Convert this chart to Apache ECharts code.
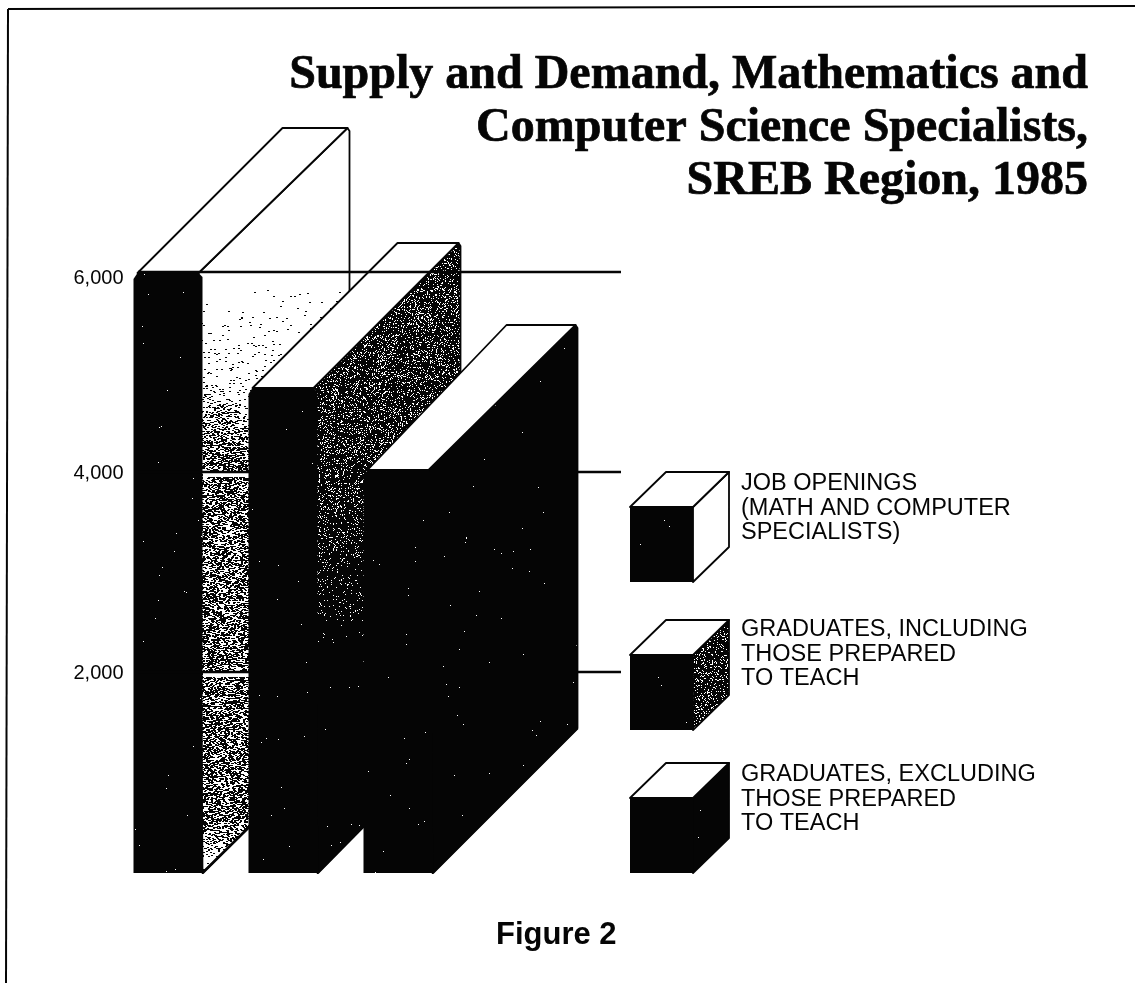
<!DOCTYPE html>
<html>
<head>
<meta charset="utf-8">
<title>Supply and Demand</title>
<script src="https://cdn.jsdelivr.net/npm/echarts@6/dist/echarts.min.js"></script>
<style>
    html, body { margin: 0; padding: 0; background: #fff; }
    #chart { width: 1135px; height: 983px; }
</style>
</head>
<body>
<div id="chart"></div>
<script>
// values
const categories = ['Job openings', 'Graduates, including', 'Graduates, excluding'];
const jobOpenings = [6000];
const gradsIncluding = [4850];
const gradsExcluding = [4030];
const tickValues = [0, 2000, 4000, 6000];
const tickLabels = ['', '2,000', '4,000', '{low|6,000}'];
const backLines = [2000, 4000];
const frontLines = [6000];
const titleText = 'Supply and Demand, Mathematics and\nComputer Science Specialists,\nSREB Region, 1985';
const legendLabels = [
    ['JOB OPENINGS', '(MATH AND COMPUTER', 'SPECIALISTS)'],
    ['GRADUATES, INCLUDING', 'THOSE PREPARED', 'TO TEACH'],
    ['GRADUATES, EXCLUDING', 'THOSE PREPARED', 'TO TEACH']
];

const DEPTH_Y = 145;
const LINE_END = 621;
const INSET = 4;
const INK = '#050505';

// plain little generator so the printed grain stays the same on every load
let seed = 20240;
function grain() {
    seed = (seed * 1664525 + 1013904223) % 4294967296;
    return seed / 4294967296;
}

function speckle(paper, ink, density, dotW, dotH) {
    const c = document.createElement('canvas');
    c.width = 1135;
    c.height = 983;
    const ctx = c.getContext('2d');
    ctx.fillStyle = paper;
    ctx.fillRect(0, 0, c.width, c.height);
    ctx.fillStyle = ink;
    for (let y = 0; y < c.height; y++) {
        const d = density(y);
        for (let x = 0; x < c.width; x++) {
            if (grain() < d) ctx.fillRect(x, y, dotW, dotH);
        }
    }
    return { image: c, repeat: 'repeat' };
}

// bar 1 side: nearly clean at the top, heavy from about 4,400 down
const sideLight = speckle('#fff', INK, function (y) {
    if (y < 290) return 0;
    if (y < 390) return 0.004 + (y - 290) * 0.0003;
    if (y < 450) return 0.035 + (y - 390) * 0.005;
    if (y < 820) return 0.36;
    return Math.max(0.03, 0.36 - (y - 820) * 0.008);
}, 2, 1);

// bar 2 side: dark, white grain dying out towards the bottom
const sideDark = speckle(INK, '#fff', function (y) {
    if (y < 470) return 0.17;
    if (y < 650) return 0.17 - (y - 470) * 0.00092;
    return 0.001;
}, 1, 1);

const blackFace = speckle(INK, '#fff', function () { return 0.0008; }, 1, 1);
const cubeDark = speckle(INK, '#fff', function () { return 0.16; }, 1, 1);

function barItem(sideFill, depthX, backLeftX) {
    return function (params, api) {
        const top = api.coord([api.value(0), api.value(1)]);
        const base = api.coord([api.value(0), 0]);
        const w = api.size([1, 0])[0] * 0.6;
        const l = top[0] - w / 2;
        const r = top[0] + w / 2;
        const back = top[1] - DEPTH_Y;
        const edge = { stroke: INK, lineWidth: 1.8, lineJoin: 'round' };
        return {
            type: 'group',
            children: [
                {
                    type: 'polygon',
                    shape: { points: [[r - INSET, top[1]], [r + depthX - 2, back], [r + depthX, back + 3], [r + depthX, base[1] - DEPTH_Y], [r, base[1]]] },
                    style: Object.assign({ fill: sideFill }, edge)
                },
                {
                    type: 'polygon',
                    shape: { points: [[l + INSET, top[1]], [l + INSET + backLeftX, back], [r + depthX - 2, back], [r - INSET, top[1]]] },
                    style: Object.assign({ fill: '#fff' }, edge)
                },
                {
                    type: 'polygon',
                    shape: { points: [[l, top[1] + INSET + 2], [l + INSET, top[1]], [r - INSET, top[1]], [r, top[1] + INSET], [r, base[1]], [l, base[1]]] },
                    style: { fill: blackFace }
                },
                {
                    type: 'line',
                    shape: { x1: r, y1: base[1], x2: r + depthX, y2: base[1] - DEPTH_Y },
                    style: { stroke: INK, lineWidth: 2.6 }
                }
            ]
        };
    };
}

function lineItem(withGap) {
    return function (params, api) {
        const p = api.coord([0, api.value(0)]);
        const children = [{
            type: 'line',
            shape: { x1: 138, y1: p[1] - 1, x2: LINE_END, y2: p[1] - 1 },
            style: { stroke: INK, lineWidth: 2.5 }
        }];
        if (withGap) {
            children.unshift({
                type: 'rect',
                shape: { x: 203, y: p[1], width: 46, height: 4 },
                style: { fill: '#fff' }
            });
        }
        return { type: 'group', children: children };
    };
}

function cube(y, sideFill) {
    const l = 630, r = 693, h = 75, dx = 36, dy = 35;
    const edge = { stroke: INK, lineWidth: 1.8, lineJoin: 'round' };
    return [
        { type: 'polygon', shape: { points: [[r, y], [r + dx, y - dy], [r + dx, y + h - dy], [r, y + h]] }, style: Object.assign({ fill: sideFill }, edge) },
        { type: 'polygon', shape: { points: [[l, y], [l + dx, y - dy], [r + dx, y - dy], [r, y]] }, style: Object.assign({ fill: '#fff' }, edge) },
        { type: 'rect', shape: { x: l, y: y, width: r - l, height: h }, style: { fill: blackFace } }
    ];
}

function legendText(lines, y) {
    return lines.map(function (txt, i) {
        return {
            type: 'text',
            x: 741,
            y: y + i * 24.3,
            style: { text: txt, fill: INK, font: '23.5px "Liberation Sans"', textVerticalAlign: 'middle' }
        };
    });
}

const cubeTops = [507, 655, 798];
const cubeSides = ['#fff', cubeDark, blackFace];
const labelTops = [484, 630, 775];
let legendParts = [];
cubeTops.forEach(function (y, i) {
    legendParts = legendParts.concat(cube(y, cubeSides[i]), legendText(legendLabels[i], labelTops[i]));
});

const frame = [
    { type: 'line', shape: { x1: 8, y1: 9, x2: 1135, y2: 6 }, style: { stroke: INK, lineWidth: 2 } },
    { type: 'line', shape: { x1: 8, y1: 9, x2: 6, y2: 983 }, style: { stroke: INK, lineWidth: 2 } }
];

const chart = echarts.init(document.getElementById('chart'), null, { renderer: 'canvas' });
chart.setOption({
    animation: false,
    backgroundColor: '#fff',
    title: [
        {
            text: titleText,
            left: 1083,
            top: 44,
            textAlign: 'right',
            textStyle: {
                fontFamily: 'Liberation Serif',
                fontWeight: 'bold',
                fontSize: 48,
                lineHeight: 53,
                color: INK,
                textBorderColor: INK,
                textBorderWidth: 0.7
            }
        },
        {
            text: 'Figure 2',
            left: 491,
            top: 915,
            textStyle: { fontFamily: 'Liberation Sans', fontWeight: 'bold', fontSize: 31, color: INK }
        }
    ],
    grid: { left: 110.5, width: 345, top: 273, height: 600 },
    xAxis: { type: 'category', data: categories, show: false },
    yAxis: {
        type: 'value',
        min: 0,
        max: 6000,
        interval: 2000,
        axisLine: { show: false },
        axisTick: { show: false },
        splitLine: { show: false },
        axisLabel: {
            margin: -13,
            fontFamily: 'Liberation Sans',
            fontSize: 20,
            color: INK,
            rich: { low: { fontFamily: 'Liberation Sans', fontSize: 20, color: INK, padding: [10, 0, 0, 0] } },
            formatter: function (v) { return tickLabels[tickValues.indexOf(v)]; }
        }
    },
    graphic: frame.concat(legendParts),
    series: [
        { type: 'custom', name: categories[0], z: 2, clip: false, renderItem: barItem(sideLight, 147, 145), data: jobOpenings.map(function (v) { return [0, v]; }) },
        { type: 'custom', name: 'lines behind', z: 3, clip: false, renderItem: lineItem(true), data: backLines.map(function (v) { return [v]; }), encode: { y: 0 } },
        { type: 'custom', name: categories[1], z: 4, clip: false, renderItem: barItem(sideDark, 143, 145), data: gradsIncluding.map(function (v) { return [1, v]; }) },
        { type: 'custom', name: categories[2], z: 5, clip: false, renderItem: barItem(blackFace, 145, 139), data: gradsExcluding.map(function (v) { return [2, v]; }) },
        { type: 'custom', name: 'line in front', z: 6, clip: false, renderItem: lineItem(false), data: frontLines.map(function (v) { return [v]; }), encode: { y: 0 } }
    ]
});
</script>
</body>
</html>
